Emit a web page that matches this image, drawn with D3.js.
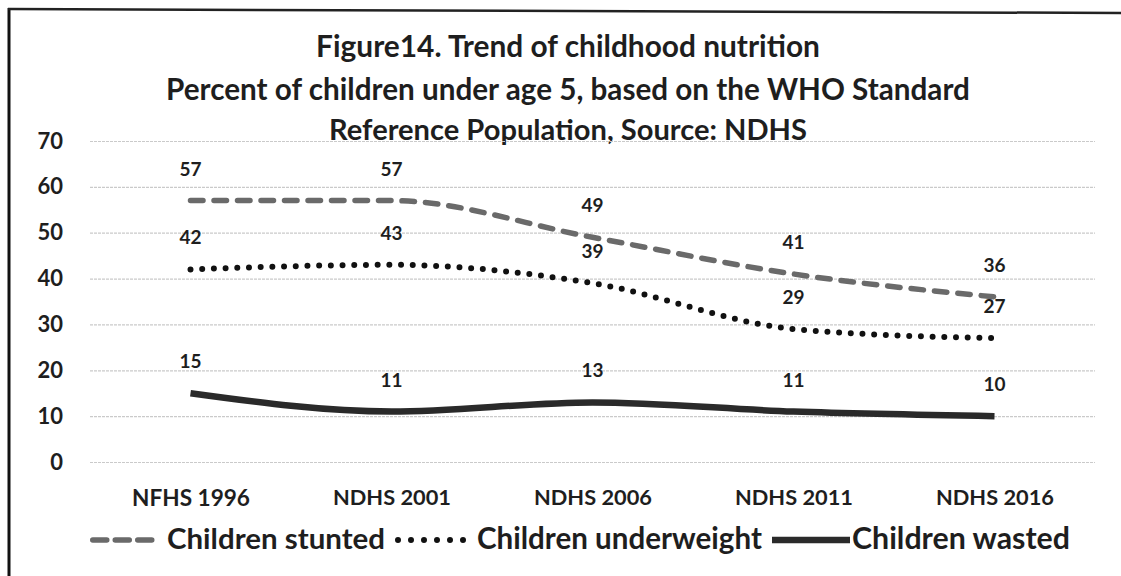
<!DOCTYPE html>
<html>
<head>
<meta charset="utf-8">
<script src="https://cdn.jsdelivr.net/npm/d3@7"></script>
<style>
  html, body { margin: 0; padding: 0; background: #fff; }
  svg { display: block; }
  text { font-family: "Lato", "Open Sans", sans-serif; font-weight: 700; fill: #1e1e1e; }
</style>
</head>
<body>
<svg id="chart" width="1121" height="576"></svg>
<script>
// Survey rounds and the three nutrition indicators (% of children under 5)
const surveys = ["NFHS 1996", "NDHS 2001", "NDHS 2006", "NDHS 2011", "NDHS 2016"];
const stunted = [57, 57, 49, 41, 36];
const underweight = [42, 43, 39, 29, 27];
const wasted = [15, 11, 13, 11, 10];
const yTicks = [0, 10, 20, 30, 40, 50, 60, 70];
const seriesNames = ["Children stunted", "Children underweight", "Children wasted"];
const titleLines = [
  "Figure14. Trend of childhood nutrition",
  "Percent of children under age 5, based on the WHO Standard",
  "Reference Population, Source: NDHS"
];

const svg = d3.select("#chart");
const W = 1121, H = 576;
const plot = { left: 90, right: 1095, top: 141, bottom: 462 };

// Shrink or grow a text's font so it spans the given width
function fitWidth(sel, target) {
  sel.each(function () {
    const node = this;
    const fs = parseFloat(getComputedStyle(node).fontSize);
    const len = node.getComputedTextLength();
    if (len > 0) d3.select(node).style("font-size", (fs * target / len).toFixed(2) + "px");
  });
}

// Frame
svg.append("line").attr("x1", 9).attr("y1", 8).attr("x2", 9).attr("y2", H)
  .attr("stroke", "#111").attr("stroke-width", 3);
svg.append("line").attr("x1", 8).attr("y1", 9).attr("x2", W).attr("y2", 13)
  .attr("stroke", "#222").attr("stroke-width", 2.5);

// Title
const titleWidths = [504, 804, 478];
const titleBase = [57, 100, 140];
titleLines.forEach((t, i) => {
  svg.append("text")
    .attr("x", 568).attr("y", titleBase[i])
    .attr("text-anchor", "middle")
    .style("font-size", "25px")
    .text(t)
    .call(fitWidth, titleWidths[i]);
});

// Scales
const x = d3.scaleBand().domain(surveys).range([plot.left, plot.right]).padding(0);
const cx = d => x(d) + x.bandwidth() / 2;
const y = d3.scaleLinear().domain([0, 70]).range([plot.bottom, plot.top]);

// Horizontal gridlines
const grid = svg.append("g").attr("transform", `translate(${plot.left},0)`)
  .call(d3.axisLeft(y).tickValues(yTicks).tickSize(-(plot.right - plot.left)).tickFormat(""));
grid.select(".domain").remove();
grid.selectAll(".tick line").attr("stroke", "#cacaca").attr("stroke-width", 1.2)
  .attr("stroke-dasharray", "3,1");

// Y axis labels
const yAxis = svg.append("g").attr("transform", `translate(${plot.left},0)`)
  .call(d3.axisLeft(y).tickValues(yTicks).tickSize(0).tickPadding(27));
yAxis.select(".domain").remove();
yAxis.selectAll("text").attr("fill", null).style("font-size", "22px").style("font-family", null);

// X axis labels
const xAxis = svg.append("g").attr("transform", `translate(0,${plot.bottom})`)
  .call(d3.axisBottom(d3.scalePoint().domain(surveys).range([cx(surveys[0]), cx(surveys[4])]))
    .tickSize(0).tickPadding(28));
xAxis.select(".domain").remove();
xAxis.selectAll("text").attr("fill", null).style("font-size", "18px").style("font-family", null)
  .call(fitWidth, 118);

// Series styles
const series = [
  { name: seriesNames[0], values: stunted, color: "#6a6a6a", width: 5.5, dash: "12.5,11", cap: "round" },
  { name: seriesNames[1], values: underweight, color: "#111", width: 6, dash: "0,11.7", cap: "round" },
  { name: seriesNames[2], values: wasted, color: "#2a2a2a", width: 6.5, dash: null, cap: "butt" }
];

const line = d3.line().x((d, i) => cx(surveys[i])).y(d => y(d)).curve(d3.curveMonotoneX);

series.forEach(s => {
  svg.append("path")
    .datum(s.values)
    .attr("d", line)
    .attr("fill", "none")
    .attr("stroke", s.color)
    .attr("stroke-width", s.width)
    .attr("stroke-linecap", s.cap)
    .attr("stroke-dasharray", s.dash);
});

// Data labels above each point
series.forEach(s => {
  svg.append("g").selectAll("text")
    .data(s.values)
    .join("text")
    .attr("x", (d, i) => cx(surveys[i]))
    .attr("y", d => y(d) - 25)
    .attr("text-anchor", "middle")
    .style("font-size", "19px")
    .text(d => d);
});

// Legend
const legendY = 540;
const legendItems = [
  { sx: 90, sw: 65, tx: 167, tw: 218 },
  { sx: 395, sw: 72, tx: 477, tw: 285 },
  { sx: 772, sw: 78, tx: 852, tw: 218 }
];
series.forEach((s, i) => {
  const L = legendItems[i];
  const dash = i === 0 ? "14,8.5" : (i === 1 ? "0,13" : null);
  svg.append("line")
    .attr("x1", L.sx + (s.cap === "round" ? s.width / 2 : 0))
    .attr("x2", L.sx + L.sw)
    .attr("y1", legendY).attr("y2", legendY)
    .attr("stroke", s.color).attr("stroke-width", s.width)
    .attr("stroke-linecap", s.cap).attr("stroke-dasharray", dash);
  svg.append("text")
    .attr("x", L.tx).attr("y", legendY + 9)
    .style("font-size", "24px")
    .text(s.name)
    .call(fitWidth, L.tw);
});
</script>
</body>
</html>
